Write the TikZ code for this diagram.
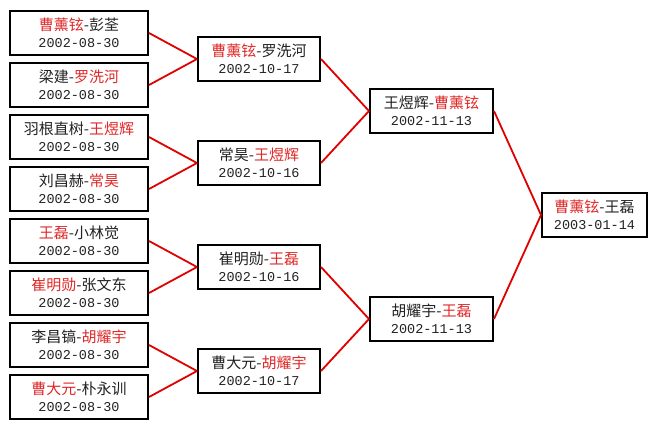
\documentclass[tikz,border=0pt]{standalone}
\usepackage{fontspec}
\setmainfont{Noto Sans CJK SC}
\newfontfamily\datefont{Liberation Mono}
\definecolor{tred}{HTML}{E02828}
\definecolor{lred}{HTML}{E00000}
\definecolor{txt}{HTML}{222222}
\newcommand{\rd}[1]{{\color{tred}#1}}
\newcommand{\dt}[1]{{\datefont\fontsize{13.5}{17}\selectfont #1}}
\begin{document}
\begin{tikzpicture}[x=1pt,y=-1pt]
\tikzset{
  game/.style={draw=black, line width=2pt, fill=white, minimum height=44pt, inner sep=0pt,
    align=center, text=txt, font=\fontsize{15}{17}\selectfont},
  c1/.style={game, minimum width=138pt},
  c2/.style={game, minimum width=122pt},
  c3/.style={game, minimum width=123pt},
  c4/.style={game, minimum width=105pt},
  link/.style={draw=lred, line width=1.8pt}
}
\fill[white] (0,0) rectangle (659,429);
\useasboundingbox (0,0) rectangle (659,429);
% column 1
\node[c1] (a1) at (79,33)  {\rd{曹薰铉}-彭荃\\\dt{2002-08-30}};
\node[c1] (a2) at (79,85)  {梁建-\rd{罗洗河}\\\dt{2002-08-30}};
\node[c1] (a3) at (79,137) {羽根直树-\rd{王煜辉}\\\dt{2002-08-30}};
\node[c1] (a4) at (79,189) {刘昌赫-\rd{常昊}\\\dt{2002-08-30}};
\node[c1] (a5) at (79,241) {\rd{王磊}-小林觉\\\dt{2002-08-30}};
\node[c1] (a6) at (79,293) {\rd{崔明勋}-张文东\\\dt{2002-08-30}};
\node[c1] (a7) at (79,345) {李昌镐-\rd{胡耀宇}\\\dt{2002-08-30}};
\node[c1] (a8) at (79,397) {\rd{曹大元}-朴永训\\\dt{2002-08-30}};
% column 2
\node[c2] (b1) at (259,59)  {\rd{曹薰铉}-罗洗河\\\dt{2002-10-17}};
\node[c2] (b2) at (259,163) {常昊-\rd{王煜辉}\\\dt{2002-10-16}};
\node[c2] (b3) at (259,267) {崔明勋-\rd{王磊}\\\dt{2002-10-16}};
\node[c2] (b4) at (259,371) {曹大元-\rd{胡耀宇}\\\dt{2002-10-17}};
% column 3
\node[c3] (d1) at (431.5,111) {王煜辉-\rd{曹薰铉}\\\dt{2002-11-13}};
\node[c3] (d2) at (431.5,319) {胡耀宇-\rd{王磊}\\\dt{2002-11-13}};
% column 4
\node[c4] (f) at (594.5,215) {\rd{曹薰铉}-王磊\\\dt{2003-01-14}};
% links
\draw[link] (a1.east) -- (b1.west);
\draw[link] (a2.east) -- (b1.west);
\draw[link] (a3.east) -- (b2.west);
\draw[link] (a4.east) -- (b2.west);
\draw[link] (a5.east) -- (b3.west);
\draw[link] (a6.east) -- (b3.west);
\draw[link] (a7.east) -- (b4.west);
\draw[link] (a8.east) -- (b4.west);
\draw[link] (b1.east) -- (d1.west);
\draw[link] (b2.east) -- (d1.west);
\draw[link] (b3.east) -- (d2.west);
\draw[link] (b4.east) -- (d2.west);
\draw[link] (d1.east) -- (f.west);
\draw[link] (d2.east) -- (f.west);
\end{tikzpicture}
\end{document}
